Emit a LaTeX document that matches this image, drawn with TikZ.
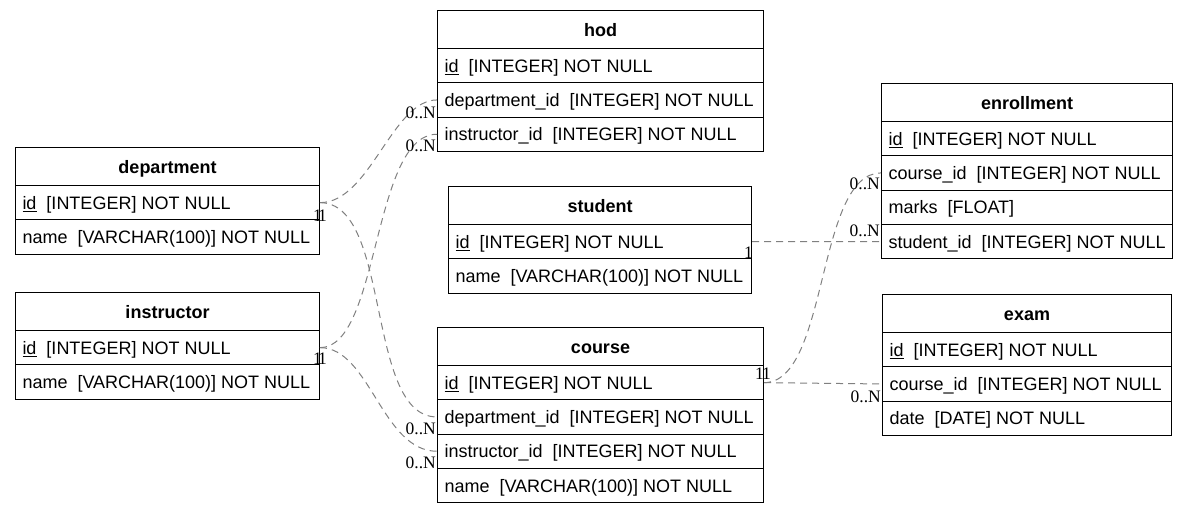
\documentclass[tikz,border=0pt]{standalone}
\usepackage{fontspec}
\setmainfont{Liberation Sans}
\newfontfamily\labfont{Liberation Serif}
\newcommand\pk[1]{\setbox0\hbox{#1}\rlap{\rule[-2.6pt]{\wd0}{1.2pt}}\box0}
\newcommand\erhead[5]{\node[hdr, minimum width=#4pt] (#1) at (#2,#3) {#5};}
% name, x, top y, inner width, index, text
\newcommand\errow[6]{\node[fld] (#1) at ({#2},{#3+38+34.3*(#5-1)}) {\makebox[#4pt][l]{#6}};}
\begin{document}
\begin{tikzpicture}[x=1pt,y=-1pt,
  tbl/.style={draw, line width=1pt, anchor=north west, inner sep=0pt, text height=13pt, text depth=0pt},
  hdr/.style={tbl, minimum height=38pt, font=\fontsize{18}{20}\selectfont\bfseries},
  fld/.style={tbl, minimum height=34.3pt, inner xsep=7pt, font=\fontsize{18}{20}\selectfont},
  rel/.style={draw=black!50, line width=1pt, dash pattern=on 7pt off 5pt},
  card/.style={font=\labfont\fontsize{17.5}{18}\selectfont, inner sep=0pt},
]
\path[use as bounding box] (0,0) rectangle (1190,515);

% hod
\erhead{hod}{437}{10}{326}{hod}
\errow{hod-id}{437}{10}{312}{1}{\pk{id}\ \ [INTEGER] NOT NULL}
\errow{hod-dep}{437}{10}{312}{2}{department\_id\ \ [INTEGER] NOT NULL}
\errow{hod-ins}{437}{10}{312}{3}{instructor\_id\ \ [INTEGER] NOT NULL}

% department
\erhead{dep}{15}{147}{304}{department}
\errow{dep-id}{15}{147}{290}{1}{\pk{id}\ \ [INTEGER] NOT NULL}
\errow{dep-name}{15}{147}{290}{2}{name\ \ [VARCHAR(100)] NOT NULL}

% instructor
\erhead{ins}{15}{292}{304}{instructor}
\errow{ins-id}{15}{292}{290}{1}{\pk{id}\ \ [INTEGER] NOT NULL}
\errow{ins-name}{15}{292}{290}{2}{name\ \ [VARCHAR(100)] NOT NULL}

% student
\erhead{stu}{448}{186}{303}{student}
\errow{stu-id}{448}{186}{289}{1}{\pk{id}\ \ [INTEGER] NOT NULL}
\errow{stu-name}{448}{186}{289}{2}{name\ \ [VARCHAR(100)] NOT NULL}

% course
\erhead{crs}{437}{327}{326}{course}
\errow{crs-id}{437}{327}{312}{1}{\pk{id}\ \ [INTEGER] NOT NULL}
\errow{crs-dep}{437}{327}{312}{2}{department\_id\ \ [INTEGER] NOT NULL}
\errow{crs-ins}{437}{327}{312}{3}{instructor\_id\ \ [INTEGER] NOT NULL}
\errow{crs-name}{437}{327}{312}{4}{name\ \ [VARCHAR(100)] NOT NULL}

% enrollment
\erhead{enr}{881}{83}{291}{enrollment}
\errow{enr-id}{881}{83}{277}{1}{\pk{id}\ \ [INTEGER] NOT NULL}
\errow{enr-crs}{881}{83}{277}{2}{course\_id\ \ [INTEGER] NOT NULL}
\errow{enr-marks}{881}{83}{277}{3}{marks\ \ [FLOAT]}
\errow{enr-stu}{881}{83}{277}{4}{student\_id\ \ [INTEGER] NOT NULL}

% exam
\erhead{exm}{882}{294}{289}{exam}
\errow{exm-id}{882}{294}{275}{1}{\pk{id}\ \ [INTEGER] NOT NULL}
\errow{exm-crs}{882}{294}{275}{2}{course\_id\ \ [INTEGER] NOT NULL}
\errow{exm-date}{882}{294}{275}{3}{date\ \ [DATE] NOT NULL}

% relations
\draw[rel] (dep-id.east) .. controls +(50,0) and +(-45,0) .. (hod-dep.west);
\draw[rel] (dep-id.east) .. controls +(72,0) and +(-72,0) .. (crs-dep.west);
\draw[rel] (ins-id.east) .. controls +(60,0) and +(-65,0) .. (hod-ins.west);
\draw[rel] (ins-id.east) .. controls +(50,0) and +(-55,0) .. (crs-ins.west);
\draw[rel] (stu-id.east) -- (enr-stu.west);
\draw[rel] (crs-id.east) .. controls +(65,0) and +(-65,0) .. (enr-crs.west);
\draw[rel] (crs-id.east) -- (exm-crs.west);

% cardinalities
\node[card, anchor=base west] (c1) at (313,221) {1};
\node[card, anchor=base west] (c2) at (318,221) {1};
\node[card, anchor=base west] (c3) at (313,364) {1};
\node[card, anchor=base west] (c4) at (318,364) {1};
\node[card, anchor=base west] (c5) at (744,258) {1};
\node[card, anchor=base west] (c6) at (755,379) {1};
\node[card, anchor=base west] (c7) at (762,379) {1};
\node[card, anchor=base east] (n1) at (436,118) {0..N};
\node[card, anchor=base east] (n2) at (436,151) {0..N};
\node[card, anchor=base east] (n3) at (436,434) {0..N};
\node[card, anchor=base east] (n4) at (436,468) {0..N};
\node[card, anchor=base east] (n5) at (880,189) {0..N};
\node[card, anchor=base east] (n6) at (880,236) {0..N};
\node[card, anchor=base east] (n7) at (881,402) {0..N};
\end{tikzpicture}
\end{document}
